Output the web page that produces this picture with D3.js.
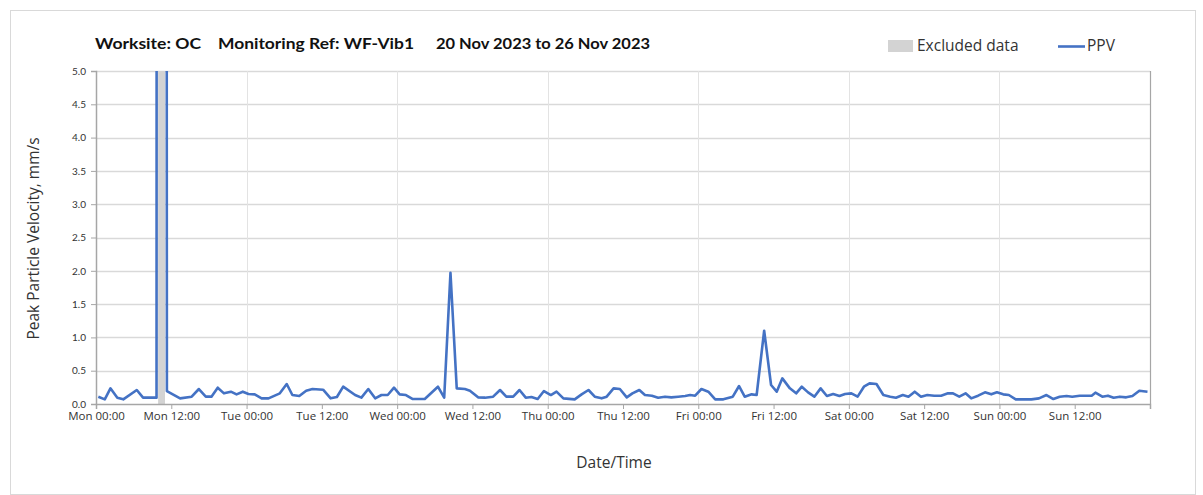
<!DOCTYPE html>
<html><head><meta charset="utf-8">
<script src="https://cdn.jsdelivr.net/npm/d3@7"></script>
<style>body{margin:0;background:#fff}svg{display:block}</style>
</head><body>
<svg id="chart" width="1203" height="495"></svg>
<script>
// ---- data (hours after Mon 20 Nov 2023 00:00, PPV in mm/s) ----
const startDate = new Date(2023, 10, 20, 0, 0);
const hours = [0.37,1.4,2.3,3.4,4.35,6.5,7.5,9.65,9.8,11.0,
 11.3,13.4,15.25,16.4,17.5,18.4,19.4,20.4,21.5,22.4,23.4,24.3,25.3,26.4,27.5,29.3,30.4,31.3,32.4,33.5,34.5,36.2,37.4,38.4,39.4,41.3,42.3,43.4,44.5,45.5,46.5,47.5,48.4,49.4,50.5,52.4,54.5,55.5,56.5,57.5,58.8,59.6,60.9,62,63.3,64.4,65.4,66.5,67.5,68.5,69.4,70.4,71.4,72.5,73.4,74.5,76.3,77.4,78.5,79.5,80.6,81.4,82.5,83.5,84.6,85.5,86.6,87.5,88.6,89.6,90.7,91.7,92.8,93.9,94.7,95.5,96.5,97.6,98.7,100,101.5,102.5,103.4,104.5,105.3,106.5,107.6,108.5,109.4,110.6,111.6,112.5,113.5,114.5,115.5,116.5,117.5,118.5,119.4,120.4,121.4,122.4,123.3,124.4,125.5,126.6,127.5,128.6,129.5,130.5,131.5,132.5,133.6,134.7,135.8,136.6,137.6,138.6,139.5,140.6,141.7,142.7,143.6,144.6,145.5,146.6,147.8,149.1,150.3,151.5,152.6,153.6,154.7,155.6,156.8,157.6,158.7,159.3,160.4,161.3,162.2,163.2,164.2,165.2,166.3,167.6];
const ppv = [0.11,0.07,0.235,0.095,0.07,0.21,0.095,0.095,60,60,
 0.195,0.085,0.11,0.225,0.11,0.11,0.245,0.16,0.185,0.145,0.185,0.15,0.145,0.085,0.085,0.16,0.30,0.135,0.12,0.2,0.225,0.215,0.085,0.105,0.26,0.135,0.095,0.225,0.085,0.135,0.135,0.245,0.145,0.135,0.075,0.075,0.26,0.095,1.97,0.235,0.225,0.2,0.1,0.095,0.11,0.21,0.11,0.11,0.21,0.095,0.105,0.075,0.195,0.135,0.185,0.085,0.07,0.145,0.21,0.11,0.085,0.11,0.235,0.225,0.1,0.16,0.21,0.135,0.125,0.095,0.11,0.1,0.11,0.12,0.135,0.125,0.225,0.185,0.07,0.07,0.11,0.27,0.11,0.145,0.135,1.10,0.285,0.185,0.385,0.235,0.16,0.26,0.175,0.11,0.235,0.12,0.15,0.12,0.15,0.16,0.11,0.26,0.31,0.30,0.135,0.11,0.095,0.135,0.11,0.185,0.11,0.135,0.125,0.125,0.16,0.16,0.11,0.16,0.085,0.125,0.175,0.145,0.175,0.145,0.135,0.07,0.07,0.07,0.085,0.135,0.075,0.11,0.12,0.11,0.125,0.125,0.125,0.17,0.11,0.125,0.095,0.11,0.1,0.12,0.2,0.185];
const excludedStart = [9.9];
const excludedEnd = [11.0];
const yTicks = [0,0.5,1,1.5,2,2.5,3,3.5,4,4.5,5];
const titleParts = ["Worksite: OC", "Monitoring Ref: WF-Vib1", "20 Nov 2023 to 26 Nov 2023"];
const legendLabels = ["Excluded data", "PPV"];
const yTitle = "Peak Particle Velocity, mm/s";
const xTitle = "Date/Time";

const toDate = h => new Date(startDate.getTime() + h * 3600000);
const svg = d3.select("#chart");
const m = {left: 96, right: 1150, top: 71, bottom: 404};

// outer border
svg.append("rect").attr("x", 10.5).attr("y", 10.5).attr("width", 1185).attr("height", 484)
  .attr("fill", "none").attr("stroke", "#d9d9d9");

const x = d3.scaleTime().domain([startDate, toDate(168)]).range([m.left, m.right]);
const y = d3.scaleLinear().domain([0, 5]).range([m.bottom, m.top]);

// horizontal gridlines
svg.append("g").selectAll("line").data(yTicks.slice(1)).join("line")
  .attr("x1", m.left).attr("x2", m.right)
  .attr("y1", d => Math.round(y(d)) + 0.5).attr("y2", d => Math.round(y(d)) + 0.5)
  .attr("stroke", "#d9d9d9").attr("stroke-width", 1.5);
// vertical gridlines each day
const dayTicks = d3.range(24, 168, 24).map(toDate);
svg.append("g").selectAll("line").data(dayTicks).join("line")
  .attr("x1", d => Math.round(x(d)) + 0.5).attr("x2", d => Math.round(x(d)) + 0.5)
  .attr("y1", m.top).attr("y2", m.bottom)
  .attr("stroke", "#e3e3e3").attr("stroke-width", 1);
// right border
svg.append("line").attr("x1", m.right + 0.5).attr("x2", m.right + 0.5)
  .attr("y1", m.top).attr("y2", m.bottom).attr("stroke", "#a6a6a6").attr("stroke-width", 1.2);

// clip
svg.append("clipPath").attr("id", "clip").append("rect")
  .attr("x", m.left).attr("y", m.top).attr("width", m.right - m.left).attr("height", m.bottom - m.top);

// excluded band
svg.append("g").attr("clip-path", "url(#clip)").selectAll("rect")
  .data(excludedStart.map((s, i) => [s, excludedEnd[i]])).join("rect")
  .attr("x", d => x(toDate(d[0]))).attr("width", d => x(toDate(d[1])) - x(toDate(d[0])))
  .attr("y", m.top).attr("height", m.bottom - m.top).attr("fill", "#d3d3d3");

// line
const pts = hours.map((h, i) => [toDate(h), ppv[i]]);
svg.append("path").attr("clip-path", "url(#clip)").datum(pts)
  .attr("fill", "none").attr("stroke", "#4472C4").attr("stroke-width", 2.6)
  .attr("stroke-linejoin", "round")
  .attr("d", d3.line().x(d => x(d[0])).y(d => y(d[1])));

// axes
const xTickVals = d3.range(0, 168, 12).map(toDate);
const xAxis = svg.append("g").attr("transform", `translate(0,${m.bottom})`)
  .call(d3.axisBottom(x).tickValues(xTickVals).tickFormat(d3.timeFormat("%a %H:%M")).tickSizeOuter(0).tickSize(5).tickPadding(3));
xAxis.select(".domain").attr("stroke", "#a6a6a6").attr("stroke-width", 1.5);
xAxis.selectAll(".tick line").attr("stroke", "#a6a6a6");
xAxis.selectAll("text").attr("font-family", "'Open Sans', sans-serif").attr("font-size", 11.5).attr("fill", "#333");

const yAxis = svg.append("g").attr("transform", `translate(${m.left},0)`)
  .call(d3.axisLeft(y).tickValues(yTicks).tickFormat(d3.format(".1f")).tickSizeOuter(0).tickSize(5).tickPadding(5));
yAxis.select(".domain").attr("stroke", "#a6a6a6").attr("stroke-width", 1.5);
yAxis.selectAll(".tick line").attr("stroke", "#a6a6a6");
yAxis.selectAll("text").attr("font-family", "Lato, sans-serif").attr("font-size", 10).attr("fill", "#333");

// title
const titleX = [95, 218, 436];
const titleW = [106, 196, 214];
svg.append("g").selectAll("text").data(titleParts).join("text")
  .attr("x", (d, i) => titleX[i]).attr("y", 49)
  .attr("textLength", (d, i) => titleW[i]).attr("lengthAdjust", "spacingAndGlyphs")
  .attr("font-family", "Lato, sans-serif").attr("font-weight", "bold").attr("font-size", 16)
  .attr("fill", "#111").text(d => d);

// legend
svg.append("rect").attr("x", 888).attr("y", 40).attr("width", 25).attr("height", 12).attr("fill", "#d3d3d3");
svg.append("text").attr("x", 917).attr("y", 51).attr("font-family", "'Open Sans', sans-serif")
  .attr("font-size", 15.5).attr("fill", "#333").text(legendLabels[0]);
svg.append("line").attr("x1", 1058).attr("x2", 1085).attr("y1", 46.5).attr("y2", 46.5)
  .attr("stroke", "#4472C4").attr("stroke-width", 2.6);
svg.append("text").attr("x", 1087).attr("y", 51).attr("font-family", "'Open Sans', sans-serif")
  .attr("font-size", 15.5).attr("fill", "#333").text(legendLabels[1]);

// axis titles
svg.append("text").attr("transform", `translate(39,${(m.top + m.bottom) / 2 + 1}) rotate(-90)`)
  .attr("text-anchor", "middle").attr("font-family", "'Open Sans', sans-serif")
  .attr("font-size", 15.5).attr("fill", "#333").text(yTitle);
svg.append("text").attr("x", 614).attr("y", 468).attr("text-anchor", "middle")
  .attr("font-family", "'Open Sans', sans-serif").attr("font-size", 15.5).attr("fill", "#333").text(xTitle);
</script>
</body></html>
